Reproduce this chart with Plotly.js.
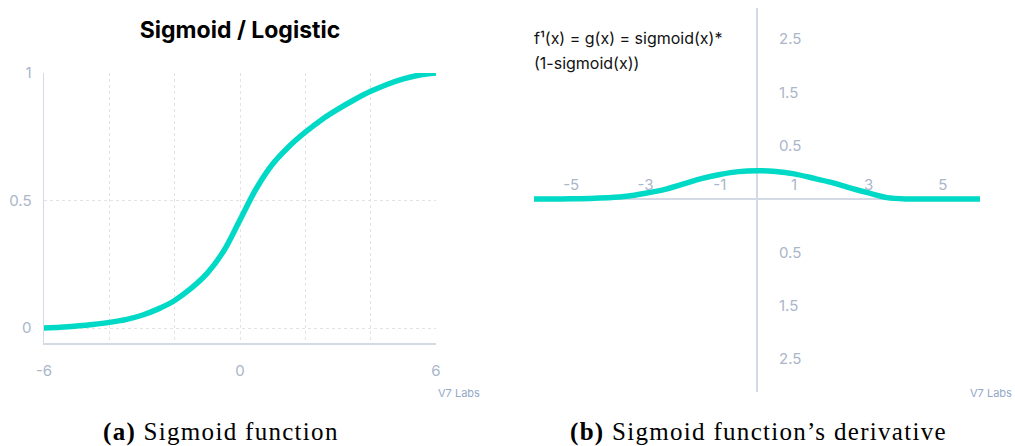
<!DOCTYPE html>
<html>
<head>
<meta charset="utf-8">
<script src="https://cdn.plot.ly/plotly-3.0.1.min.js"></script>
<style>
html,body{margin:0;padding:0;background:#fff;}
#chart{width:1015px;height:446px;}
.js-line{stroke-linecap:round;stroke-linejoin:round;}
</style>
</head>
<body>
<div id="chart"></div>
<script>
// Left panel: sigmoid curve
const sigX = [-6,-5.5,-5,-4.5,-4,-3.5,-3,-2.5,-2,-1.5,-1,-0.5,0,0.5,1,1.5,2,2.5,3,3.5,4,4.5,5,5.5,6];
const sigY = [0,0.003,0.008,0.014,0.022,0.033,0.05,0.075,0.108,0.155,0.215,0.302,0.424,0.547,0.643,0.712,0.768,0.817,0.858,0.895,0.928,0.955,0.977,0.992,1.0];
const sigXTicks = [-6,0,6];
const sigXText = ['-6','0','6'];
const sigXGrid = [-4,-2,0,2,4];
const sigYTicks = [0,0.5,1];
const sigYText = ['0','0.5','1'];

// Right panel: derivative curve
const derX = [-6,-5.5,-5,-4.5,-4,-3.5,-3,-2.5,-2,-1.5,-1,-0.5,0,0.5,1,1.5,2,2.5,3,3.5,4,4.5,5,5.5,6];
const derY = [0,0,0.001,0.004,0.012,0.026,0.054,0.088,0.139,0.191,0.229,0.256,0.265,0.258,0.235,0.196,0.155,0.103,0.056,0.012,0,0,0,0,0];
const derXTicks = [-5,-3,-1,1,3,5];
const derXText = ['-5','-3','-1','1','3','5'];
const derYTicks = [-1.5,-1,-0.5,0.5,1,1.5];
const derYText = ['2.5','1.5','0.5','0.5','1.5','2.5'];

const titleText = '<b>Sigmoid / Logistic</b>';
const formulaLine1 = 'f\u00B9(x) = g(x) = sigmoid(x)*';
const formulaLine2 = '(1-sigmoid(x))';
const captionA = '<span style="letter-spacing:1.3px"><b>(a)</b> Sigmoid function</span>';
const captionB = '<span style="letter-spacing:1.3px"><b>(b)</b> Sigmoid function\u2019s derivative</span>';
const brand = 'V7 Labs';

const W = 1015, H = 446;
const px = v => v / W;
const py = v => 1 - v / H;

const teal = '#00d9c5';
const tickCol = '#aab6c9';
const axisCol = '#d3dae6';
const gridCol = '#e3e3e3';
const tickFont = {family: 'Inter, "Open Sans", sans-serif', size: 15, color: tickCol};
const serif = '"Liberation Serif", "DejaVu Serif", serif';

const data = [
  {x: sigX, y: sigY, xaxis: 'x', yaxis: 'y', mode: 'lines', type: 'scatter',
   line: {color: teal, width: 5.5, shape: 'spline', smoothing: 1}, cliponaxis: false, hoverinfo: 'skip'},
  {x: derX, y: derY, xaxis: 'x2', yaxis: 'y2', mode: 'lines', type: 'scatter',
   line: {color: teal, width: 5.5, shape: 'spline', smoothing: 0.6}, cliponaxis: false, hoverinfo: 'skip'}
];

const layout = {
  width: W, height: H,
  margin: {l: 0, r: 0, t: 0, b: 0},
  paper_bgcolor: '#fff', plot_bgcolor: 'rgba(0,0,0,0)',
  showlegend: false,
  font: {family: 'Inter, sans-serif'},
  title: {text: titleText, x: px(240), xanchor: 'center', y: py(30), yanchor: 'middle',
          font: {family: 'Inter, sans-serif', size: 23, color: '#000'}},
  xaxis: {
    domain: [px(44), px(436)], range: [-6, 6], anchor: 'y',
    tickvals: sigXTicks, ticktext: sigXText, showgrid: false, zeroline: false,
    showline: true, linecolor: axisCol, linewidth: 1.5,
    ticks: 'outside', ticklen: 13, tickcolor: 'rgba(0,0,0,0)',
    tickfont: tickFont,
    minor: {tickvals: sigXGrid, showgrid: true, gridcolor: gridCol, gridwidth: 1, griddash: '3px,3px', ticks: ''}
  },
  yaxis: {
    domain: [py(343), py(73)], range: [-0.0588, 1], anchor: 'x',
    tickvals: sigYTicks, ticktext: sigYText,
    showgrid: true, gridcolor: gridCol, gridwidth: 1, griddash: '3px,3px', zeroline: false,
    showline: true, linecolor: axisCol, linewidth: 1.5,
    ticks: 'outside', ticklen: 8, tickcolor: 'rgba(0,0,0,0)',
    tickfont: tickFont
  },
  xaxis2: {
    domain: [px(534), px(980)], range: [-6, 6], anchor: 'free', position: py(200), side: 'top',
    tickvals: derXTicks, ticktext: derXText, showgrid: false, showline: false,
    zeroline: true, zerolinecolor: axisCol, zerolinewidth: 1.2,
    ticks: 'outside', ticklen: 4, tickcolor: 'rgba(0,0,0,0)',
    tickfont: tickFont
  },
  yaxis2: {
    domain: [py(392), py(8)], range: [-1.81, 1.79], anchor: 'free', position: px(757), side: 'right',
    tickvals: derYTicks, ticktext: derYText, showgrid: false, showline: false,
    zeroline: true, zerolinecolor: axisCol, zerolinewidth: 1.2,
    ticks: 'outside', ticklen: 18, tickcolor: 'rgba(0,0,0,0)',
    tickfont: tickFont
  },
  annotations: [
    {text: formulaLine1, xref: 'paper', yref: 'paper', x: px(532), y: py(38), xanchor: 'left', yanchor: 'middle',
     align: 'left', showarrow: false, font: {family: 'Inter, sans-serif', size: 16, color: '#111'}},
    {text: formulaLine2, xref: 'paper', yref: 'paper', x: px(532), y: py(63), xanchor: 'left', yanchor: 'middle',
     align: 'left', showarrow: false, font: {family: 'Inter, sans-serif', size: 16, color: '#111'}},
    {text: brand, xref: 'paper', yref: 'paper', x: px(482), y: py(393), xanchor: 'right', yanchor: 'middle',
     showarrow: false, font: {family: 'Inter, sans-serif', size: 11, color: '#93a8c8'}},
    {text: brand, xref: 'paper', yref: 'paper', x: px(1014), y: py(393), xanchor: 'right', yanchor: 'middle',
     showarrow: false, font: {family: 'Inter, sans-serif', size: 11, color: '#93a8c8'}},
    {text: captionA, xref: 'paper', yref: 'paper', x: px(221), y: py(432), xanchor: 'center', yanchor: 'middle',
     showarrow: false, font: {family: serif, size: 25, color: '#000'}},
    {text: captionB, xref: 'paper', yref: 'paper', x: px(758), y: py(432), xanchor: 'center', yanchor: 'middle',
     showarrow: false, font: {family: serif, size: 25, color: '#000'}}
  ]
};

Plotly.newPlot('chart', data, layout, {displayModeBar: false, staticPlot: true});
</script>
</body>
</html>
